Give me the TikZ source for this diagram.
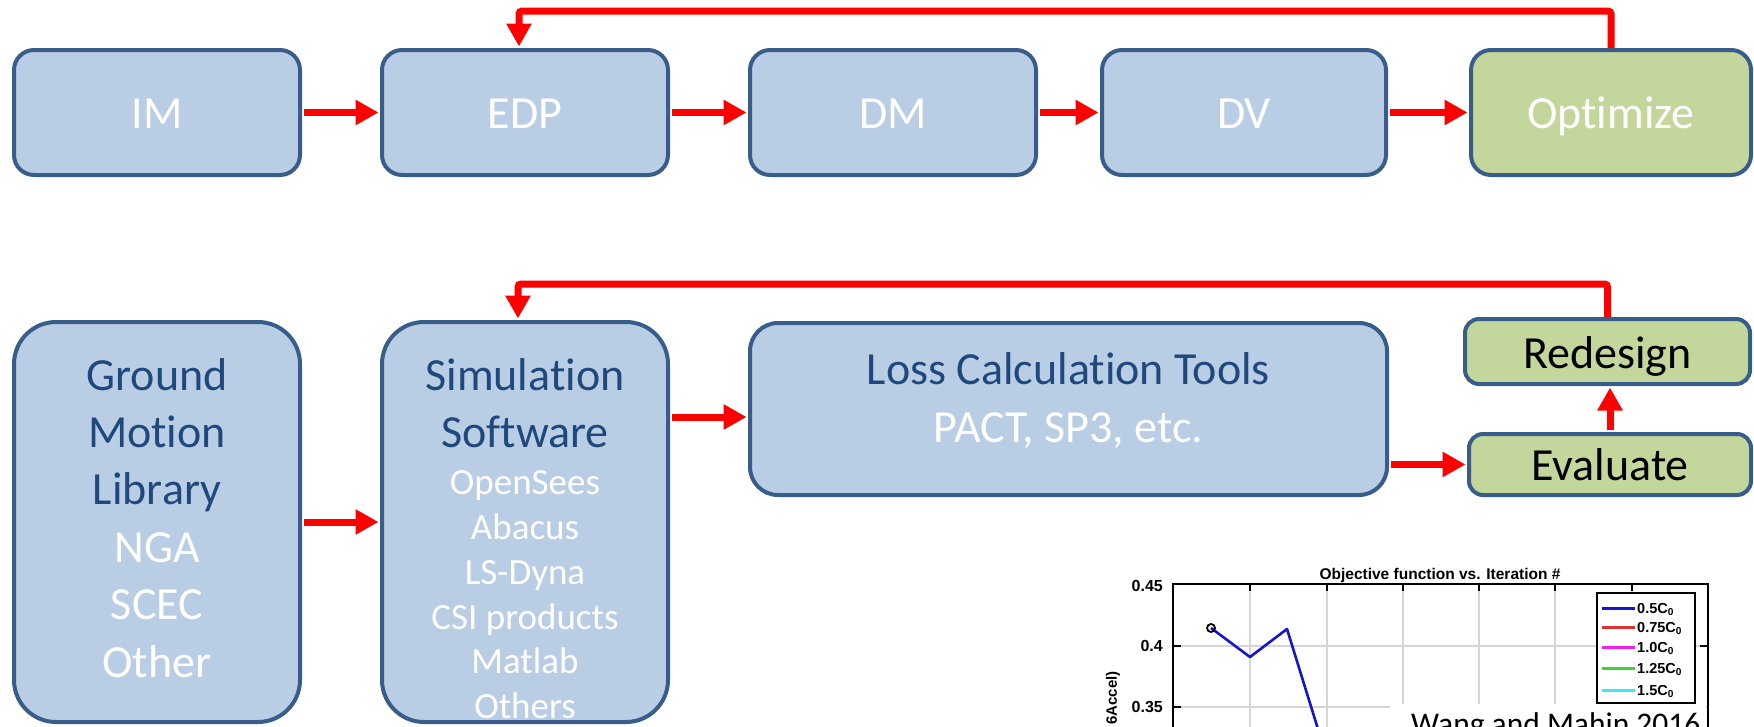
\documentclass[tikz,border=0pt]{standalone}
\usepackage{fontspec}
\setmainfont{Carlito}[Ligatures={NoCommon,NoDiscretionary}]
\newfontfamily\plotfont{Liberation Sans}
\usetikzlibrary{arrows.meta}
\definecolor{boxblue}{HTML}{B9CDE5}
\definecolor{boxgreen}{HTML}{C3D69B}
\definecolor{bord}{HTML}{385D8A}
\definecolor{navy}{HTML}{1F497D}
\definecolor{arrred}{HTML}{FF0000}
\definecolor{gridc}{HTML}{D6D6D6}
\definecolor{plotblue}{HTML}{1414D2}
\definecolor{lgred}{HTML}{E03030}
\definecolor{lgmag}{HTML}{F020F0}
\definecolor{lggreen}{HTML}{40D040}
\definecolor{lgcyan}{HTML}{40E8F0}
\begin{document}
\begin{tikzpicture}[x=1pt,y=-1pt,
  box/.style={draw=bord, line width=4pt, fill=boxblue, inner sep=0pt, rounded corners=20pt},
  gbox/.style={box, fill=boxgreen},
  bigtxt/.style={font=\fontsize{46}{55}\selectfont},
  smalltxt/.style={font=\fontsize{37}{45}\selectfont},
  oneline/.style={bigtxt, text height=31pt, text depth=0pt},
  line/.style={anchor=base, inner sep=0pt},
  arr/.style={draw=arrred, line width=7pt, -{Triangle[length=23pt,width=24pt]}, shorten >=1.5pt, shorten <=2pt},
  fb/.style={arr, rounded corners=3pt, shorten <=0pt},
  pf/.style={font=\plotfont\bfseries\fontsize{#1}{#1}\selectfont, inner sep=0pt},
  grid/.style={draw=gridc, line width=1.5pt},
  frame/.style={draw=black, line width=2.5pt},
  lgline/.style={line width=3pt},
]
\useasboundingbox (0,0) rectangle (1754,726);
\begin{scope}
\clip (0,0) rectangle (1754,726);

% ---------- top row ----------
\node[box, minimum width=286pt, minimum height=125pt, oneline, text=white] (im)  at (157,112.5)  {IM};
\node[box, minimum width=286pt, minimum height=125pt, oneline, text=white] (edp) at (525,112.5)  {EDP};
\node[box, minimum width=286pt, minimum height=125pt, oneline, text=white] (dm)  at (893,112.5)  {DM};
\node[box, minimum width=284pt, minimum height=125pt, oneline, text=white] (dv)  at (1244,112.5) {DV};
\node[gbox, minimum width=280pt, minimum height=125pt, oneline, text=white] (opt) at (1611,112.5) {Optimize};

\draw[arr] (im) -- (edp);
\draw[arr] (edp) -- (dm);
\draw[arr] (dm) -- (dv);
\draw[arr] (dv) -- (opt);
\draw[fb] (opt.north) -- ++(0,-37) -| ([xshift=-6pt]edp.north);

% ---------- bottom row ----------
\node[box, rounded corners=42pt, minimum width=286pt, minimum height=400pt] (gm)  at (157,522) {};
\node[box, rounded corners=42pt, minimum width=286pt, minimum height=400pt] (sim) at (525,522) {};
\node[box, rounded corners=28pt, minimum width=637pt, minimum height=172pt] (loss) at (1068.5,409) {};
\node[gbox, rounded corners=14pt, minimum width=285pt, minimum height=65pt, bigtxt, text height=33pt, text depth=0pt] (redesign) at (1607.5,351.5) {Redesign};
\node[gbox, rounded corners=14pt, minimum width=282pt, minimum height=61pt, oneline] (eval) at (1610,464.5) {Evaluate};

% texts of the big boxes
\node[line, bigtxt, text=navy]  (gm1) at (157,390)   {Ground};
\node[line, bigtxt, text=navy]  (gm2) at (157,447.4) {Motion};
\node[line, bigtxt, text=navy]  (gm3) at (157,504.8) {Library};
\node[line, bigtxt, text=white] (gm4) at (157,562.2) {NGA};
\node[line, bigtxt, text=white] (gm5) at (157,619.6) {SCEC};
\node[line, bigtxt, text=white] (gm6) at (157,677)   {Other};

\node[line, bigtxt, text=navy]    (sim1) at (525,390) {Simulation};
\node[line, bigtxt, text=navy]    (sim2) at (525,447) {Software};
\node[line, smalltxt, text=white] (sim3) at (525,494) {OpenSees};
\node[line, smalltxt, text=white] (sim4) at (525,539) {Abacus};
\node[line, smalltxt, text=white] (sim5) at (525,584) {LS-Dyna};
\node[line, smalltxt, text=white] (sim6) at (525,629) {CSI products};
\node[line, smalltxt, text=white] (sim7) at (525,673) {Matlab};
\node[line, smalltxt, text=white] (sim8) at (525,718) {Others};

\node[line, bigtxt, text=navy]  (loss1) at (1068.5,384) {Loss Calculation Tools};
\node[line, bigtxt, text=white] (loss2) at (1068.5,442) {PACT, SP3, etc.};

\coordinate (lossin) at ([yshift=-8pt]loss.west);
\draw[arr] (gm) -- (sim);
\draw[arr] (sim.east |- lossin) -- (lossin);
\draw[arr] (loss.east |- eval.west) -- (eval.west);
\draw[arr] (eval.north) -- (eval.north |- redesign.south);
\draw[fb] (redesign.north) -- ++(0,-33) -| ([xshift=-7pt]sim.north);

% ---------- plot ----------
\foreach \gx in {1250,1327,1403,1479,1555,1632} \draw[grid] (\gx,585) -- (\gx,740);
\foreach \gy in {646,707} \draw[grid] (1173,\gy) -- (1708,\gy);
\foreach \gx in {1250,1327,1403,1479,1555,1632} \draw[line width=2pt] (\gx,584) -- (\gx,591);
\foreach \gy in {646,707} \draw[line width=2pt] (1173,\gy) -- (1181,\gy);
\draw[line width=2pt] (1708,646) -- (1700,646);

\draw[draw=plotblue, line width=2.6pt, line join=round] (1211,628) -- (1250,657) -- (1287,629) -- (1322,742);
\draw[line width=1.8pt] (1211,628) circle (4pt);

\node[pf=15.5, anchor=base] (title) at (1440,579) {Objective function vs. Iteration \#};
\node[pf=16, anchor=east] (t45) at (1163,586) {0.45};
\node[pf=16, anchor=east] (t40) at (1163,646) {0.4};
\node[pf=16, anchor=east] (t35) at (1163,707) {0.35};
\node[pf=15, rotate=90, anchor=east] (ylab) at (1113,671) {6Accel)};

% legend
\draw[line width=2.2pt, fill=white] (1597,593) rectangle (1695,703);
\draw[lgline, plotblue] (1602,608) -- (1635,608);
\draw[lgline, lgred]    (1602,627) -- (1635,627);
\draw[lgline, lgmag]    (1602,647) -- (1635,647);
\draw[lgline, lggreen]  (1602,668) -- (1635,668);
\draw[lgline, lgcyan]   (1602,690) -- (1635,690);
\node[pf=14.5, anchor=base west] (lg1) at (1637,613) {0.5C\textsubscript{0}};
\node[pf=14.5, anchor=base west] (lg2) at (1637,632) {0.75C\textsubscript{0}};
\node[pf=14.5, anchor=base west] (lg3) at (1637,652) {1.0C\textsubscript{0}};
\node[pf=14.5, anchor=base west] (lg4) at (1637,673) {1.25C\textsubscript{0}};
\node[pf=14.5, anchor=base west] (lg5) at (1637,695) {1.5C\textsubscript{0}};

% citation box
\fill[white] (1390,704) rectangle (1706,740);
\node[anchor=base west, inner sep=0pt, font=\fontsize{31.5}{38}\selectfont] (cite) at (1411,734) {Wang and Mahin 2016};

% axes frame
\draw[frame] (1173,745) -- (1173,584) -- (1708,584) -- (1708,745);
\end{scope}
\end{tikzpicture}
\end{document}
